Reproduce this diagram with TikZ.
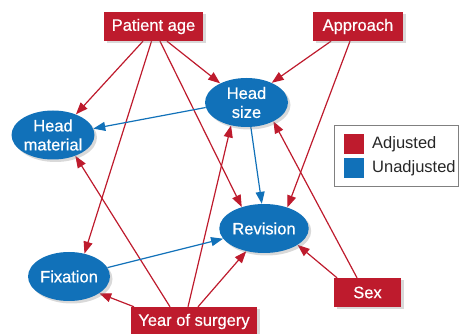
\documentclass[tikz,border=0pt]{standalone}
\usepackage{fontspec}
\setmainfont{Liberation Sans}
\newfontfamily\medfont{Liberation Sans}[FakeBold=0.6]
\usetikzlibrary{shapes.geometric,shadows,arrows.meta}
\definecolor{adjred}{RGB}{190,27,45}
\definecolor{unblue}{RGB}{17,113,185}
\pgfdeclarelayer{background}
\pgfsetlayers{background,main}
\begin{document}
\begin{tikzpicture}[x=1pt,y=-1pt,
  every node/.style={font=\fontsize{16.5}{19}\selectfont},
  var/.style={rectangle, fill=adjred, text=white, minimum height=29pt, inner sep=0pt,
    font=\medfont\fontsize{16.5}{19}\selectfont,
    drop shadow={opacity=0.3, shadow xshift=2.5pt, shadow yshift=-2.5pt}},
  outc/.style={ellipse, fill=unblue, text=white, inner sep=0pt, align=center,
    minimum height=49pt, font=\medfont\fontsize{16.5}{19}\selectfont,
    drop shadow={opacity=0.3, shadow xshift=2.5pt, shadow yshift=-2.5pt}},
  adj/.style={draw=adjred, line width=1.2pt, -{Triangle[length=12pt,width=9pt]}},
  unadj/.style={draw=unblue, line width=1.2pt, -{Triangle[length=12pt,width=9pt]}}]
\useasboundingbox (0,0) rectangle (459,334);
% boxes
\node[var, minimum width=99pt] (pa) at (153.5,26.5) {Patient age};
\node[var, minimum width=90pt] (ap) at (358,26.5) {Approach};
\node[var, minimum width=67pt] (sx) at (367.5,292.5) {Sex};
\node[var, minimum width=126pt] (ys) at (194,321.5) {Year of surgery};
% ellipses
\node[outc, minimum width=82pt] (hm) at (53,135) {Head\\material};
\node[outc, minimum width=83pt] (hs) at (246.5,102.5) {Head\\size};
\node[outc, minimum width=82pt] (fx) at (69,276.5) {Fixation};
\node[outc, minimum width=84pt] (rv) at (264,228.5) {Revision};
% legend
\node[draw=black!50, line width=0.8pt, minimum width=124pt, minimum height=61pt, inner sep=0pt] (lg) at (396.5,155.5) {};
\node[fill=adjred, minimum size=20pt, inner sep=0pt] (lr) at (354,144) {};
\node[fill=unblue, minimum size=20pt, inner sep=0pt] (lb) at (354,168.5) {};
\node[anchor=west, text=black!85, inner sep=0pt] (lrt) at (372,144) {Adjusted};
\node[anchor=west, text=black!85, inner sep=0pt] (lbt) at (372,168.5) {Unadjusted};
% edges
\begin{pgfonlayer}{background}
\draw[adj] ([xshift=-10.5pt]pa.south) -- (hm.42);
\draw[adj] ([xshift=-2pt]pa.south) -- (fx.56);
\draw[adj] ([xshift=6.5pt]pa.south) -- (rv.136);
\draw[adj] ([xshift=13.5pt]pa.south) -- (hs.144);
\draw[adj] ([xshift=-27pt]ap.south) -- (hs.38);
\draw[adj] ([xshift=-8pt]ap.south) -- (rv.42);
\draw[adj] ([xshift=-10.5pt]sx.north) -- (hs.-35);
\draw[adj] ([xshift=-30.5pt]sx.north) -- (rv.-26);
\draw[adj] ([xshift=-60pt]ys.north) -- (fx.-29);
\draw[adj] ([xshift=-24pt]ys.north) -- (hm.-43);
\draw[adj] ([xshift=-6pt]ys.north) -- (hs.-124);
\draw[adj] ([xshift=4pt]ys.north) -- (rv.-128);
\draw[unadj] (hs.187) -- (hm.9);
\draw[unadj] (hs.-80) -- (rv.95);
\draw[unadj] (fx.13) -- (rv.194);
\end{pgfonlayer}
\end{tikzpicture}
\end{document}
